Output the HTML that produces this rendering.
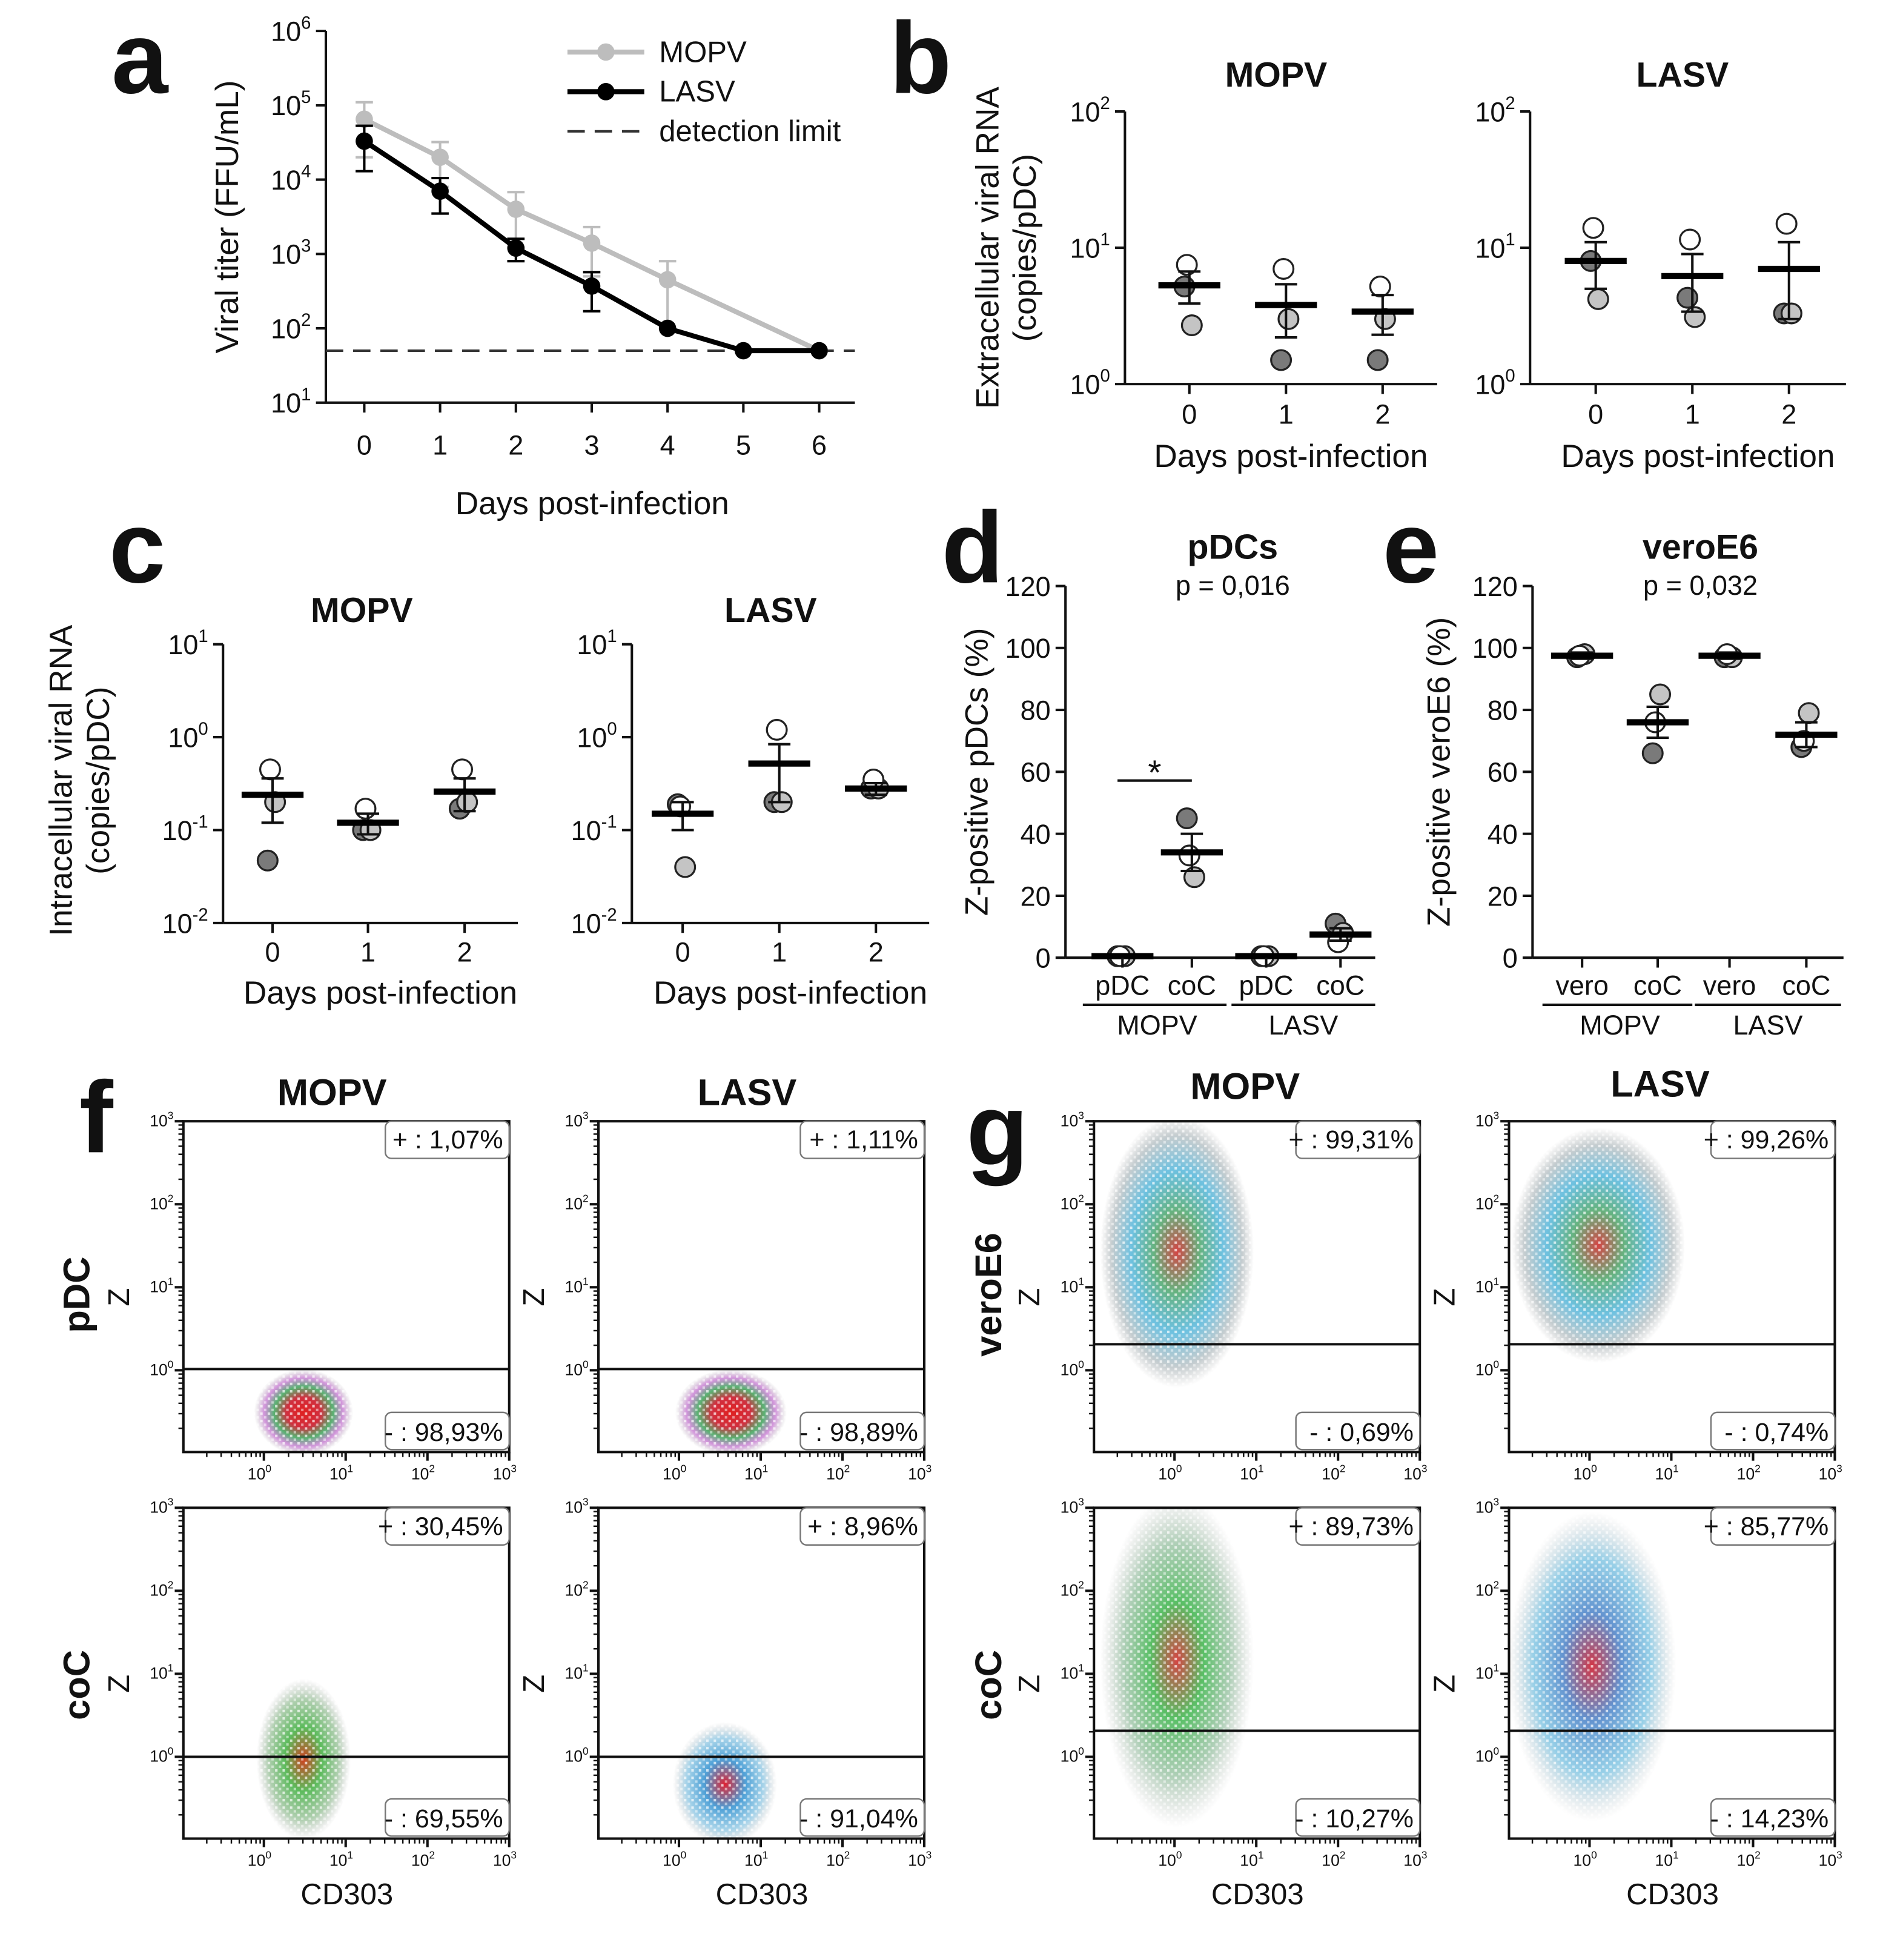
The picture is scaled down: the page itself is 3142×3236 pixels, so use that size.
<!DOCTYPE html>
<html><head><meta charset="utf-8"><style>
html,body{margin:0;padding:0;background:#fff}
svg{display:block}
text{font-family:"Liberation Sans",sans-serif}
</style></head><body>
<svg id="fig" xmlns="http://www.w3.org/2000/svg" width="3142" height="3236" viewBox="0 0 1536 1582">
<defs>
<pattern id="speck" width="6" height="6" patternUnits="userSpaceOnUse"><rect x="0" y="0" width="2" height="2" fill="#fff" opacity="0.7"/><rect x="3" y="3" width="2" height="2" fill="#fff" opacity="0.5"/></pattern>
<radialGradient id="gPdc"><stop offset="0" stop-color="#e02020"/><stop offset="0.35" stop-color="#d03040"/><stop offset="0.6" stop-color="#30a050" stop-opacity="0.8"/><stop offset="0.8" stop-color="#b040c0" stop-opacity="0.55"/><stop offset="1" stop-color="#888" stop-opacity="0"/></radialGradient>
<radialGradient id="gCocM"><stop offset="0" stop-color="#d04020"/><stop offset="0.4" stop-color="#40b040" stop-opacity="0.85"/><stop offset="0.75" stop-color="#60a060" stop-opacity="0.5"/><stop offset="1" stop-color="#888" stop-opacity="0"/></radialGradient>
<radialGradient id="gCocL"><stop offset="0" stop-color="#e02030"/><stop offset="0.4" stop-color="#3090d0" stop-opacity="0.85"/><stop offset="0.75" stop-color="#40a0d0" stop-opacity="0.45"/><stop offset="1" stop-color="#888" stop-opacity="0"/></radialGradient>
<radialGradient id="gVero"><stop offset="0" stop-color="#d03030" stop-opacity="0.9"/><stop offset="0.3" stop-color="#40a060" stop-opacity="0.8"/><stop offset="0.6" stop-color="#20a0d0" stop-opacity="0.65"/><stop offset="0.85" stop-color="#8a9aa0" stop-opacity="0.5"/><stop offset="1" stop-color="#999" stop-opacity="0"/></radialGradient>
<radialGradient id="gCocGM"><stop offset="0" stop-color="#d03030" stop-opacity="0.9"/><stop offset="0.35" stop-color="#30b040" stop-opacity="0.8"/><stop offset="0.7" stop-color="#60a070" stop-opacity="0.5"/><stop offset="1" stop-color="#999" stop-opacity="0"/></radialGradient>
<radialGradient id="gCocGL"><stop offset="0" stop-color="#d02030" stop-opacity="0.9"/><stop offset="0.35" stop-color="#3070c0" stop-opacity="0.75"/><stop offset="0.7" stop-color="#30a0d0" stop-opacity="0.5"/><stop offset="1" stop-color="#999" stop-opacity="0"/></radialGradient>
</defs>
</svg>
<script>
// ---------- DATA ----------
const aDays=[0,1,2,3,4,5,6];
const aMopv=[65000,20000,4000,1400,450,null,50];
const aMopvErr=[45000,12000,2800,900,350,null,0];
const aLasv=[33000,7000,1200,370,100,50,50];
const aLasvErr=[20000,3500,400,200,0,0,0];
const aDetect=50;
const bcDays=[0,1,2];
const bMopvMean=[5.3,3.8,3.4], bMopvErr=[1.4,1.6,1.1];
const bMopvW=[7.5,7,5.2], bMopvL=[2.7,3,3], bMopvD=[5.2,1.5,1.5];
const bLasvMean=[8,6.2,7], bLasvErr=[3,2.8,4];
const bLasvW=[14,11.5,15], bLasvL=[4.2,3.1,3.3], bLasvD=[8,4.3,3.3];
const cMopvMean=[0.24,0.12,0.26], cMopvErr=[0.12,0.03,0.1];
const cMopvW=[0.45,0.17,0.45], cMopvL=[0.2,0.1,0.2], cMopvD=[0.047,0.1,0.17];
const cLasvMean=[0.15,0.52,0.28], cLasvErr=[0.05,0.32,0.04];
const cLasvW=[0.18,1.2,0.35], cLasvL=[0.04,0.2,0.28], cLasvD=[0.19,0.2,0.28];
const dCats=["pDC","coC","pDC","coC"];
const dMean=[0.5,34,0.5,7.5], dErr=[0.3,6,0.3,2];
const dW=[0.5,33,0.5,5], dL=[0.5,26,0.5,8], dD=[0.5,45,0.5,11];
const eCats=["vero","coC","vero","coC"];
const eMean=[97.5,76,97.5,72], eErr=[1,5,1,4];
const eW=[97.5,76,98,70], eL=[98,85,97,79], eD=[97,66,97,68];
const pctTicks=[0,20,40,60,80,100,120];
const flowPlus=["1,07%","1,11%","30,45%","8,96%","99,31%","99,26%","89,73%","85,77%"];
const flowMinus=["98,93%","98,89%","69,55%","91,04%","0,69%","0,74%","10,27%","14,23%"];

// ---------- HELPERS ----------
const svg=document.getElementById('fig');
const NS='http://www.w3.org/2000/svg';
function el(tag,attrs,parent){const e=document.createElementNS(NS,tag);for(const k in attrs)e.setAttribute(k,attrs[k]);(parent||svg).appendChild(e);return e;}
function txt(x,y,s,size,opts,parent){const o=Object.assign({x:x,y:y,'font-size':size,'text-anchor':'middle',fill:'#111'},opts||{});const t=el('text',o,parent);t.textContent=s;return t;}
function pow(x,y,exp,size,anchor,parent){const t=el('text',{x:x,y:y,'font-size':size,'text-anchor':anchor||'end',fill:'#111'},parent);
 const a=document.createElementNS(NS,'tspan');a.textContent='10';t.appendChild(a);
 const b=document.createElementNS(NS,'tspan');b.setAttribute('dy',-size*0.45);b.setAttribute('font-size',size*0.65);b.textContent=exp;t.appendChild(b);return t;}
function line(x1,y1,x2,y2,w,c,parent){return el('line',{x1:x1,y1:y1,x2:x2,y2:y2,stroke:c||'#111','stroke-width':w||2},parent);}
function logScale(top,bottom,eTop,eBot){return v=>bottom-(Math.log10(v)-eBot)/(eTop-eBot)*(bottom-top);}

// panel letters
[['a',90,75],['b',718,75],['c',88,470],['d',760,470],['e',1116,470],['f',64,930],['g',780,940]].forEach(p=>{
 const t=txt(p[1],p[2],p[0],82,{'font-weight':'bold','text-anchor':'start'});
 
 
});

// ---------- PANEL A ----------
(function(){
 const g=el('g',{});
 
 
 const X0=263,X1=690,T=25,B=325;
 const y=logScale(T,B,6,1), x=d=>294+d*61.2;
 line(X0,T,X0,B,2,'#111',g);
 line(X0,B,X1,B,2,'#111',g);
 for(let e=1;e<=6;e++){line(X0-8,y(10**e),X0,y(10**e),2,'#111',g);pow(X0-12,y(10**e)+8,e,22,'end',g);}
 aDays.forEach(d=>{line(x(d),B,x(d),B+8,2,'#111',g);txt(x(d),B+42,String(d),22,{},g);});
 txt(478,415,'Days post-infection',26,{},g);
 txt(0,0,'Viral titer (FFU/mL)',26,{transform:'translate(192,175) rotate(-90)'},g);
 el('line',{x1:X0,y1:y(aDetect),x2:X1,y2:y(aDetect),stroke:'#333','stroke-width':2,'stroke-dasharray':'14,8'},g);
 function series(vals,errs,col,name){
  const pts=[];vals.forEach((v,i)=>{if(v!=null)pts.push([x(aDays[i]),y(v)]);});
  const pl=el('polyline',{points:pts.map(p=>p.join(',')).join(' '),fill:'none',stroke:col,'stroke-width':4},g);
  
  
  vals.forEach((v,i)=>{if(v==null)return;const xx=x(aDays[i]);
   if(errs[i]>0){const yt=y(v+errs[i]),yb=y(Math.max(v-errs[i],1.1));
    line(xx,yt,xx,yb,2,col,g);line(xx-7,yt,xx+7,yt,2,col,g);line(xx-7,yb,xx+7,yb,2,col,g);}
   const c=el('circle',{cx:xx,cy:y(v),r:7,fill:col},g);
   
   
  });
 }
 series(aMopv,aMopvErr,'#bdbdbd','mopv');
 series(aLasv,aLasvErr,'#000','lasv');
 line(458,42,520,42,4,'#bdbdbd',g);el('circle',{cx:489,cy:42,r:7,fill:'#bdbdbd'},g);
 line(458,74,520,74,4,'#000',g);el('circle',{cx:489,cy:74,r:7,fill:'#000'},g);
 el('line',{x1:458,y1:106,x2:520,y2:106,stroke:'#333','stroke-width':2,'stroke-dasharray':'14,8'},g);
 txt(532,50,'MOPV',24,{'text-anchor':'start'},g);txt(532,82,'LASV',24,{'text-anchor':'start'},g);txt(532,114,'detection limit',24,{'text-anchor':'start'},g);
})();

// ---------- dot plot helper ----------
function dotPanel(name,X0,X1,T,B,y,xs,mean,err,W,L,D){
 const g=el('g',{});
 
 
 line(X0,T,X0,B,2,'#111',g);
 line(X0,B,X1,B,2,'#111',g);
 xs.forEach((xx,i)=>{
  const yt=y(mean[i]+err[i]),yb=y(mean[i]-err[i]>0?mean[i]-err[i]:mean[i]*0.01);
  [[D[i],'#7a7a7a',-4],[L[i],'#c4c4c4',2],[W[i],'#fff',-2]].forEach(p=>{
   const c=el('circle',{cx:xx+p[2],cy:y(p[0]),r:8,fill:p[1],stroke:'#222','stroke-width':1.6},g);
   
   
  });
  line(xx,yt,xx,Math.min(yb,B),2,'#111',g);
  line(xx-9,yt,xx+9,yt,2,'#111',g);
  if(yb<B)line(xx-9,yb,xx+9,yb,2,'#111',g);
  const m=line(xx-25,y(mean[i]),xx+25,y(mean[i]),5,'#000',g);
  
  
 });
 return g;
}

// ---------- PANEL B ----------
[[908,1160,[960,1038,1116],bMopvMean,bMopvErr,bMopvW,bMopvL,bMopvD,'MOPV',1030],[1235,1490,[1288,1366,1444],bLasvMean,bLasvErr,bLasvW,bLasvL,bLasvD,'LASV',1358]].forEach(c=>{
 const y=logScale(90,310,2,0);
 const g=dotPanel('panel-b-'+c[8].toLowerCase(),c[0],c[1],90,310,y,c[2],c[3],c[4],c[5],c[6],c[7]);
 for(let e=0;e<=2;e++){line(c[0]-8,y(10**e),c[0],y(10**e),2,'#111',g);pow(c[0]-12,y(10**e)+8,e,22,'end',g);}
 c[2].forEach((xx,i)=>{line(xx,310,xx,318,2,'#111',g);txt(xx,342,String(bcDays[i]),22,{},g);});
 txt(c[9],70,c[8],28,{'font-weight':'bold'},g);
 txt((c[0]+c[1])/2+8,377,'Days post-infection',26,{},g);
});
txt(0,0,'Extracellular viral RNA',26,{transform:'translate(806,200) rotate(-90)'});
txt(0,0,'(copies/pDC)',26,{transform:'translate(836,200) rotate(-90)'});

// ---------- PANEL C ----------
[[180,418,[220,297,375],cMopvMean,cMopvErr,cMopvW,cMopvL,cMopvD,'MOPV',292],[510,750,[551,629,707],cLasvMean,cLasvErr,cLasvW,cLasvL,cLasvD,'LASV',622]].forEach(c=>{
 const y=logScale(520,745,1,-2);
 const g=dotPanel('panel-c-'+c[8].toLowerCase(),c[0],c[1],520,745,y,c[2],c[3],c[4],c[5],c[6],c[7]);
 for(let e=-2;e<=1;e++){line(c[0]-8,y(10**e),c[0],y(10**e),2,'#111',g);pow(c[0]-12,y(10**e)+8,e,22,'end',g);}
 c[2].forEach((xx,i)=>{line(xx,745,xx,753,2,'#111',g);txt(xx,776,String(bcDays[i]),22,{},g);});
 txt(c[9],502,c[8],28,{'font-weight':'bold'},g);
 txt((c[0]+c[1])/2+8,810,'Days post-infection',26,{},g);
});
txt(0,0,'Intracellular viral RNA',26,{transform:'translate(58,630) rotate(-90)'});
txt(0,0,'(copies/pDC)',26,{transform:'translate(88,630) rotate(-90)'});

// ---------- PANELS D, E ----------
[[860,1110,[906,962,1022,1082],dMean,dErr,dW,dL,dD,dCats,'pDCs','p = 0,016','Z-positive pDCs (%)',797,'panel-d'],
 [1237,1488,[1277,1338,1396,1458],eMean,eErr,eW,eL,eD,eCats,'veroE6','p = 0,032','Z-positive veroE6 (%)',1170,'panel-e']].forEach(c=>{
 const y=v=>773-v*2.5;
 const g=dotPanel(c[13],c[0],c[1],473,773,y,c[2],c[3],c[4],c[5],c[6],c[7]);
 pctTicks.forEach(t=>{line(c[0]-8,y(t),c[0],y(t),2,'#111',g);txt(c[0]-12,y(t)+8,String(t),22,{'text-anchor':'end'},g);});
 c[2].forEach((xx,i)=>{line(xx,773,xx,781,2,'#111',g);txt(xx,803,c[8][i],22,{},g);});
 const mid=(c[0]+c[1])/2+10;
 line(c[2][0]-32,811,c[2][1]+28,811,2,'#111',g);
 line(c[2][2]-28,811,c[2][3]+28,811,2,'#111',g);
 txt((c[2][0]+c[2][1])/2,835,'MOPV',22,{},g);txt((c[2][2]+c[2][3])/2,835,'LASV',22,{},g);
 txt(mid,451,c[9],28,{'font-weight':'bold'},g);
 txt(mid,480,c[10],22,{},g);
 txt(0,0,c[11],26,{transform:'translate('+c[12]+',623) rotate(-90)'},g);
});
line(902,630,962,630,2);txt(932,633,'*',28);

// ---------- FLOW PLOTS ----------
const flowPlots=[
 {x:148,y:905,gate:1105,f:'gPdc',cx:245,cy:1140,rx:40,ry:35},
 {x:483,y:905,gate:1105,f:'gPdc',cx:590,cy:1140,rx:45,ry:35},
 {x:148,y:1217,gate:1418,f:'gCocM',cx:245,cy:1420,rx:38,ry:65},
 {x:483,y:1217,gate:1418,f:'gCocL',cx:585,cy:1440,rx:42,ry:50},
 {x:883,y:905,gate:1085,f:'gVero',cx:950,cy:1010,rx:62,ry:110},
 {x:1218,y:905,gate:1085,f:'gVero',cx:1290,cy:1005,rx:70,ry:95},
 {x:883,y:1217,gate:1397,f:'gCocGM',cx:950,cy:1340,rx:62,ry:135},
 {x:1218,y:1217,gate:1397,f:'gCocGL',cx:1285,cy:1345,rx:68,ry:125}
];
flowPlots.forEach((p,i)=>{
 const g=el('g',{});
 
 
 const W=263,H=267;
 el('clipPath',{id:'fc'+i},g).appendChild(document.createElementNS(NS,'rect'));
 const cr=g.querySelector('#fc'+i+' rect');cr.setAttribute('x',p.x);cr.setAttribute('y',p.y);cr.setAttribute('width',W);cr.setAttribute('height',H);
 const cg=el('g',{'clip-path':'url(#fc'+i+')'},g);
 el('ellipse',{cx:p.cx,cy:p.cy,rx:p.rx,ry:p.ry,fill:'url(#'+p.f+')'},cg);
 el('ellipse',{cx:p.cx,cy:p.cy,rx:p.rx,ry:p.ry,fill:'url(#speck)'},cg);
 el('rect',{x:p.x,y:p.y,width:W,height:H,fill:'none',stroke:'#111','stroke-width':2},g);
 line(p.x,p.gate,p.x+W,p.gate,2,'#111',g);
 for(let e=3;e>=0;e--){const yy=p.y+(3-e)*67;line(p.x-7,yy,p.x,yy,2,'#111',g);pow(p.x-8,yy+4,e,13,'end',g);
  if(e>0)for(let m=2;m<=9;m++){const ym=yy+67-Math.log10(m)*67;line(p.x-4,ym,p.x,ym,1.2,'#111',g);}
  else for(let m=2;m<=9;m++){const ym=yy+67-Math.log10(m)*67;if(ym<p.y+H)line(p.x-4,ym,p.x,ym,1.2,'#111',g);}}
 for(let e=0;e<=3;e++){const xx=p.x+W-(3-e)*66;line(xx,p.y+H,xx,p.y+H+7,2,'#111',g);pow(xx+6,p.y+H+22,e,13,'end',g);
  for(let m=2;m<=9;m++){const xm=xx-66+Math.log10(m)*66;if(xm>p.x)line(xm,p.y+H,xm,p.y+H+4,1.2,'#111',g);}}
 txt(0,0,'Z',24,{transform:'translate('+(p.x-44)+','+(p.y+142)+') rotate(-90)'},g);
 el('rect',{x:p.x+W-100,y:p.y,width:100,height:30,rx:5,fill:'#fff',stroke:'#777','stroke-width':1.2},g);
 txt(p.x+W-5,p.y+22,'+ : '+flowPlus[i],21,{'text-anchor':'end'},g);
 el('rect',{x:p.x+W-100,y:p.y+H-32,width:100,height:30,rx:5,fill:'#fff',stroke:'#777','stroke-width':1.2},g);
 txt(p.x+W-5,p.y+H-9,'- : '+flowMinus[i],21,{'text-anchor':'end'},g);
});
txt(268,892,'MOPV',30,{'font-weight':'bold'});txt(603,892,'LASV',30,{'font-weight':'bold'});
txt(1005,887,'MOPV',30,{'font-weight':'bold'});txt(1340,885,'LASV',30,{'font-weight':'bold'});
txt(0,0,'pDC',30,{'font-weight':'bold',transform:'translate(72,1045) rotate(-90)'});
txt(0,0,'coC',30,{'font-weight':'bold',transform:'translate(72,1360) rotate(-90)'});
txt(0,0,'veroE6',30,{'font-weight':'bold',transform:'translate(808,1045) rotate(-90)'});
txt(0,0,'coC',30,{'font-weight':'bold',transform:'translate(808,1360) rotate(-90)'});
[280,615,1015,1350].forEach(x=>txt(x,1537,'CD303',24));
</script>
</body></html>
